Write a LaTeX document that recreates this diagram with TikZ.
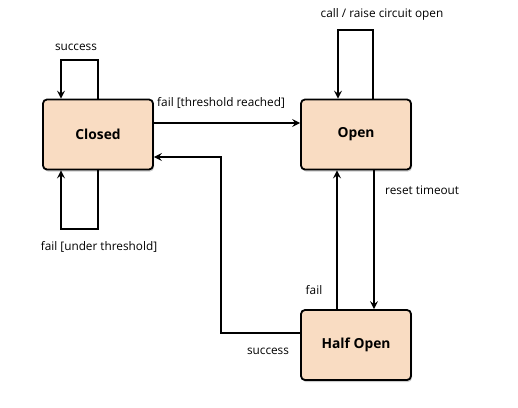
\documentclass[tikz,border=0pt]{standalone}
\usepackage{fontspec}
\setmainfont{Open Sans}
\usetikzlibrary{arrows.meta,shadows}
\definecolor{statefill}{HTML}{F9DCC2}
\tikzset{
  state/.style={draw=black, line width=1.8pt, rounded corners=4pt, fill=statefill,
    minimum width=110pt, minimum height=70pt, inner sep=0pt,
    font=\fontsize{13.8}{16}\selectfont\bfseries,
    drop shadow={shadow xshift=1pt, shadow yshift=-2pt, fill=black!40, opacity=0.5}},
  conn/.style={line width=1.8pt, -{Stealth[length=8pt,width=8pt,inset=3pt]}},
  lbl/.style={font=\fontsize{11.8}{14}\selectfont, inner sep=0pt}
}
\begin{document}
\begin{tikzpicture}[x=1pt,y=-1pt]
\useasboundingbox (0,0) rectangle (518,407);
\node[state] (closed) at (98,134.5) {Closed};
\node[state] (open) at (356,134.5) {Open};
\node[state] (half) at (356,345) {Half Open};
% Closed self loops
\coordinate (c1) at (98,60);
\coordinate (c2) at (61,60);
\draw[conn] (closed.north -| c1) -- (c1) -- (c2) -- (closed.north -| c2);
\coordinate (c3) at (98,229);
\coordinate (c4) at (61,229);
\draw[conn] (closed.south -| c3) -- (c3) -- (c4) -- (closed.south -| c4);
\node[lbl] (lsucc1) at (76,47) {success};
\node[lbl] (lfut) at (99,247) {fail [under threshold]};
% Closed -> Open
\coordinate (co) at (153,123);
\draw[conn] (closed.east |- co) -- (open.west |- co);
\node[lbl, anchor=west] (lftr) at (157,103) {fail [threshold reached]};
% Open self loop
\coordinate (o1) at (373,30);
\coordinate (o2) at (338,30);
\draw[conn] (open.north -| o1) -- (o1) -- (o2) -- (open.north -| o2);
\node[lbl] (lcall) at (382,14) {call / raise circuit open};
% Open -> Half Open
\coordinate (oh) at (374,200);
\draw[conn] (open.south -| oh) -- (half.north -| oh);
\node[lbl, anchor=west] (lreset) at (385,190) {reset timeout};
% Half Open -> Open
\coordinate (ho) at (337,250);
\draw[conn] (half.north -| ho) -- (open.south -| ho);
\node[lbl] (lfail) at (314,290) {fail};
% Half Open -> Closed
\coordinate (h1) at (221,333);
\coordinate (h2) at (221,157);
\draw[conn] (half.west |- h1) -- (h1) -- (h2) -- (closed.east |- h2);
\node[lbl] (lsucc2) at (268,351) {success};
\end{tikzpicture}
\end{document}
